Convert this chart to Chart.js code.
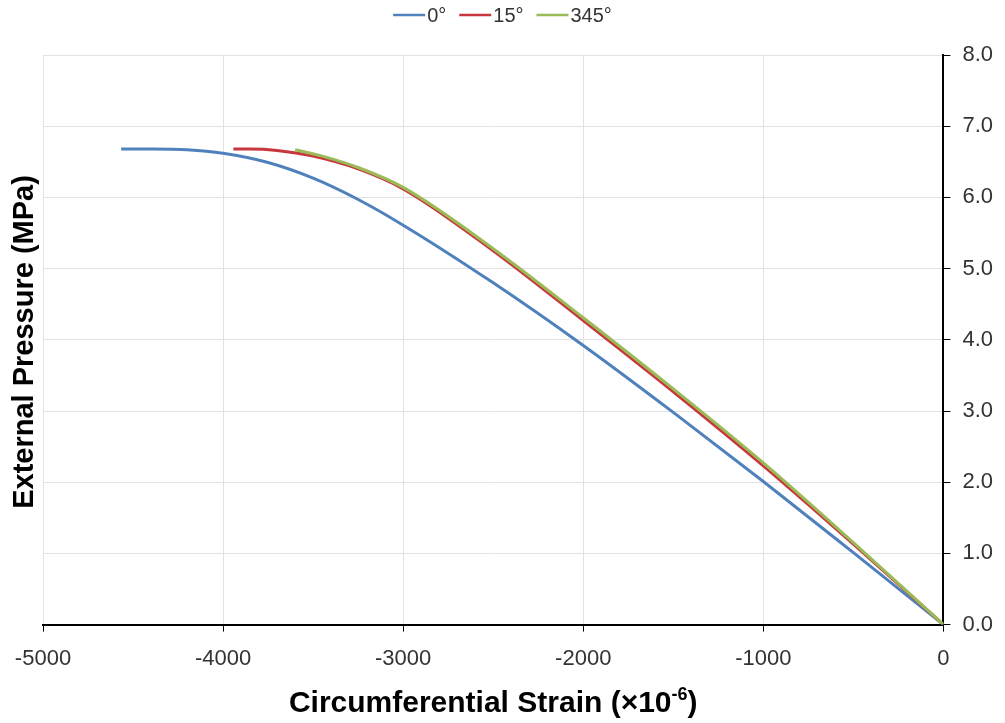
<!DOCTYPE html>
<html>
<head>
<meta charset="utf-8">
<title>External pressure vs circumferential strain</title>
<script src="https://cdn.jsdelivr.net/npm/chart.js@4.4.1/dist/chart.umd.min.js"></script>
<style>
  html, body { margin: 0; padding: 0; background: #fff; }
  #wrap { width: 1005px; height: 723px; }
</style>
</head>
<body>
<div id="wrap"><canvas id="strainChart" width="1005" height="723"></canvas></div>
<script>
// strain in microstrain, pressure in MPa, ordered left to right
const strain0 = [-4566, -4400, -4200, -4000, -3750, -3500, -3250, -3000, -2500, -2000, -1500, -1000, -500, 0];
const pressure0 = [6.68, 6.68, 6.67, 6.62, 6.49, 6.27, 5.97, 5.61, 4.80, 3.92, 2.98, 2.01, 1.01, 0];

const strain15 = [-3943, -3850, -3700, -3500, -3250, -3000, -2500, -2000, -1500, -1000, -500, 0];
const pressure15 = [6.68, 6.68, 6.66, 6.58, 6.40, 6.12, 5.25, 4.27, 3.27, 2.23, 1.13, 0];

const strain345 = [-3600, -3450, -3250, -3000, -2500, -2000, -1500, -1000, -500, 0];
const pressure345 = [6.67, 6.58, 6.42, 6.14, 5.28, 4.31, 3.31, 2.27, 1.15, 0];

const seriesNames = ['0°', '15°', '345°'];
const seriesColors = ['#4F81BD', '#C8373D', '#9BBB59'];

const xTicks = [-5000, -4000, -3000, -2000, -1000, 0];
const yTicks = [0, 1, 2, 3, 4, 5, 6, 7, 8];

function toPoints(xs, ys) {
  return xs.map((x, i) => ({ x: x, y: ys[i] }));
}

const FONT = "'Liberation Sans', Arial, sans-serif";
const TEXT_GREY = '#333';

// legend row and both axis titles are drawn by hand
const decorations = {
  id: 'decorations',
  afterDraw(chart) {
    const ctx = chart.ctx;
    const area = chart.chartArea;
    ctx.save();

    // legend: short line + label, centred over the canvas
    ctx.font = '20px ' + FONT;
    ctx.textBaseline = 'middle';
    ctx.textAlign = 'left';
    const lineW = 32, gap = 2, itemGap = 13, legendY = 15;
    const widths = seriesNames.map(n => lineW + gap + ctx.measureText(n).width);
    let total = widths.reduce((a, b) => a + b, 0) + itemGap * (widths.length - 1);
    let lx = (chart.width - total) / 2;
    seriesNames.forEach((name, i) => {
      ctx.strokeStyle = seriesColors[i];
      ctx.lineWidth = 2.5;
      ctx.beginPath();
      ctx.moveTo(lx, legendY);
      ctx.lineTo(lx + lineW, legendY);
      ctx.stroke();
      ctx.fillStyle = TEXT_GREY;
      ctx.fillText(name, lx + lineW + gap, legendY + 1);
      lx += widths[i] + itemGap;
    });

    // y title on the left, axis itself is on the right
    ctx.save();
    ctx.translate(33, 342);
    ctx.rotate(-Math.PI / 2);
    ctx.font = 'bold 29px ' + FONT;
    ctx.fillStyle = '#000';
    ctx.textAlign = 'center';
    ctx.textBaseline = 'alphabetic';
    ctx.fillText('External Pressure (MPa)', 0, 0);
    ctx.restore();

    // x title with a raised exponent
    const main = 'Circumferential Strain (×10';
    const sup = '-6';
    const tail = ')';
    const bigFont = 'bold 30px ' + FONT;
    const supFont = 'bold 18px ' + FONT;
    ctx.font = bigFont;
    const wMain = ctx.measureText(main).width;
    const wTail = ctx.measureText(tail).width;
    ctx.font = supFont;
    const wSup = ctx.measureText(sup).width;
    let tx = (area.left + area.right) / 2 - (wMain + wSup + wTail) / 2;
    const baseY = 712;
    ctx.fillStyle = '#000';
    ctx.textAlign = 'left';
    ctx.textBaseline = 'alphabetic';
    ctx.font = bigFont;
    ctx.fillText(main, tx, baseY);
    tx += wMain;
    ctx.font = supFont;
    ctx.fillText(sup, tx, baseY - 12);
    tx += wSup;
    ctx.font = bigFont;
    ctx.fillText(tail, tx, baseY);

    ctx.restore();
  }
};

const datasets = [
  toPoints(strain0, pressure0),
  toPoints(strain15, pressure15),
  toPoints(strain345, pressure345)
].map((pts, i) => ({
  label: seriesNames[i],
  data: pts,
  borderColor: seriesColors[i],
  backgroundColor: seriesColors[i],
  borderWidth: 3,
  pointRadius: 0,
  fill: false,
  cubicInterpolationMode: 'monotone',
  order: 2 - i
}));

new Chart(document.getElementById('strainChart'), {
  type: 'line',
  data: { datasets: datasets },
  plugins: [decorations],
  options: {
    responsive: false,
    animation: false,
    layout: { padding: { left: 43, right: 0, top: 55, bottom: 37 } },
    plugins: {
      legend: { display: false },
      tooltip: { enabled: false }
    },
    scales: {
      x: {
        type: 'linear',
        min: -5000,
        max: 0,
        afterBuildTicks: axis => { axis.ticks = xTicks.map(v => ({ value: v })); },
        ticks: {
          font: { family: FONT, size: 22 },
          color: TEXT_GREY,
          padding: 14,
          maxRotation: 0,
          callback: v => String(v)
        },
        grid: { color: '#e2e2e2', tickColor: '#000', tickLength: 7, lineWidth: 1 },
        border: { color: '#000', width: 2 }
      },
      y: {
        position: 'right',
        min: 0,
        max: 8,
        afterBuildTicks: axis => { axis.ticks = yTicks.map(v => ({ value: v })); },
        ticks: {
          font: { family: FONT, size: 22 },
          color: TEXT_GREY,
          padding: 12,
          callback: v => v.toFixed(1)
        },
        grid: { color: '#e2e2e2', tickColor: '#000', tickLength: 7, lineWidth: 1 },
        border: { color: '#000', width: 2 }
      }
    }
  }
});
</script>
</body>
</html>
